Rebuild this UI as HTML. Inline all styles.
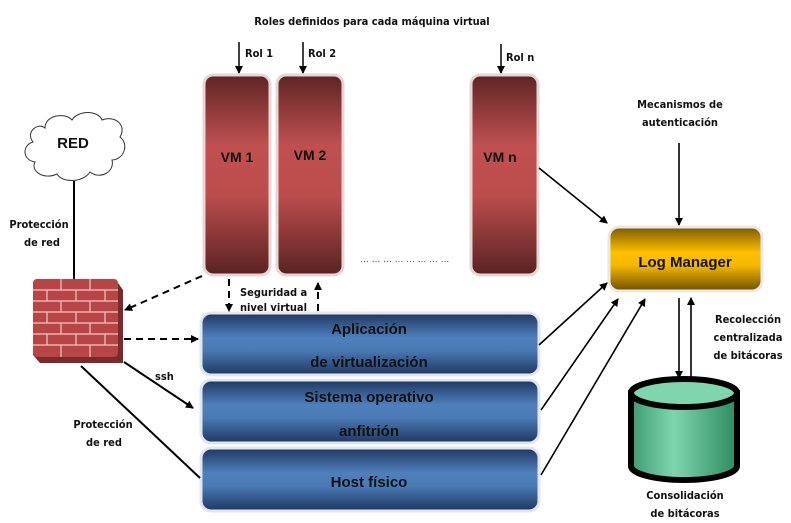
<!DOCTYPE html>
<html><head><meta charset="utf-8"><style>
html,body{margin:0;padding:0;background:#fff;}
svg{display:block;font-family:"Liberation Sans",sans-serif;}
.c{font-family:"DejaVu Sans Condensed","Liberation Sans",sans-serif;font-size:11px;font-weight:bold;fill:#111;}
.b{font-weight:bold;fill:#111;}
</style></head><body>
<svg width="791" height="523" viewBox="0 0 791 523" xmlns="http://www.w3.org/2000/svg">
<defs>
<linearGradient id="vm" x1="0" y1="0" x2="0" y2="1">
<stop offset="0" stop-color="#5e2424"/><stop offset="0.35" stop-color="#c05050"/><stop offset="0.6" stop-color="#bd4d4d"/><stop offset="1" stop-color="#5a2222"/></linearGradient>
<linearGradient id="bl" x1="0" y1="0" x2="0" y2="1">
<stop offset="0" stop-color="#1f3760"/><stop offset="0.4" stop-color="#4f80bd"/><stop offset="0.6" stop-color="#4a7ab5"/><stop offset="1" stop-color="#1f3760"/></linearGradient>
<linearGradient id="lm" x1="0" y1="0" x2="0" y2="1">
<stop offset="0" stop-color="#7a5a00"/><stop offset="0.4" stop-color="#ffc000"/><stop offset="0.6" stop-color="#f5b800"/><stop offset="1" stop-color="#6e5000"/></linearGradient>
<linearGradient id="cy" x1="0" y1="0" x2="1" y2="0">
<stop offset="0" stop-color="#3e9a72"/><stop offset="0.4" stop-color="#7fd6ae"/><stop offset="1" stop-color="#2e8a60"/></linearGradient>
<marker id="a" markerWidth="8" markerHeight="8" refX="7" refY="4" orient="auto" markerUnits="userSpaceOnUse"><path d="M0,0 L8,4 L0,8 z" fill="#000"/></marker>
</defs>

<text x="372" y="25" class="c" text-anchor="middle">Roles definidos para cada máquina virtual</text>
<g stroke="#000" stroke-width="1.5" marker-end="url(#a)">
<line x1="239" y1="42" x2="239" y2="73"/><line x1="303" y1="42" x2="303" y2="73"/><line x1="501" y1="44" x2="501" y2="73"/>
</g>
<text x="245" y="57" class="c">Rol 1</text><text x="308" y="57" class="c">Rol 2</text><text x="506" y="61" class="c">Rol n</text>

<g stroke="#e6d6d6" stroke-width="3">
<rect x="204" y="75" width="66" height="200" rx="9" fill="url(#vm)"/>
<rect x="277" y="75" width="66" height="200" rx="9" fill="url(#vm)"/>
<rect x="471" y="75" width="67" height="200" rx="9" fill="url(#vm)"/>
</g>
<text x="237" y="162" class="b" font-size="14" text-anchor="middle">VM 1</text>
<text x="310" y="160" class="b" font-size="14" text-anchor="middle">VM 2</text>
<text x="500" y="162" class="b" font-size="14" text-anchor="middle">VM n</text>
<text x="360" y="262" font-size="9" fill="#333">… … … … … … … …</text>

<g stroke="#e3e6ee" stroke-width="3">
<rect x="201" y="313" width="338" height="62" rx="10" fill="url(#bl)"/>
<rect x="201" y="380" width="338" height="63" rx="10" fill="url(#bl)"/>
<rect x="201" y="448" width="338" height="63" rx="10" fill="url(#bl)"/>
</g>
<g class="b" font-size="15" text-anchor="middle">
<text x="369" y="334">Aplicación</text><text x="369" y="367">de virtualización</text>
<text x="369" y="402">Sistema operativo</text><text x="369" y="436">anfitrión</text>
<text x="369" y="487">Host físico</text>
</g>

<path d="M45,128 C45,115 65,112 72,120 C78,110 98,110 102,120 C115,115 127,125 120,137 C130,145 123,160 112,160 C115,172 100,180 90,172 C83,183 62,183 57,174 C45,180 30,172 35,162 C22,160 22,145 33,142 C25,132 38,122 45,128 Z" fill="#fff" stroke="#333" stroke-width="1"/>
<text x="73" y="148" class="b" font-size="15" text-anchor="middle">RED</text>
<line x1="74" y1="181" x2="74" y2="279" stroke="#000" stroke-width="2"/>
<text x="39" y="228" class="c" text-anchor="middle">Protección</text>
<text x="42" y="246" class="c" text-anchor="middle">de red</text>

<path d="M36,280 L116,280 L123,290 L123,363 L40,363 L33,355 Z" fill="#7a2a2a"/>
<rect x="33" y="279" width="85" height="78" rx="4" fill="#b84545"/>
<g stroke="#f0c8c8" stroke-width="1.2">
<line x1="33" y1="290" x2="118" y2="290"/><line x1="33" y1="301" x2="118" y2="301"/><line x1="33" y1="312" x2="118" y2="312"/><line x1="33" y1="323" x2="118" y2="323"/><line x1="33" y1="334" x2="118" y2="334"/><line x1="33" y1="345" x2="118" y2="345"/>
<line x1="61" y1="279" x2="61" y2="290"/><line x1="90" y1="279" x2="90" y2="290"/>
<line x1="47" y1="290" x2="47" y2="301"/><line x1="76" y1="290" x2="76" y2="301"/><line x1="105" y1="290" x2="105" y2="301"/>
<line x1="61" y1="301" x2="61" y2="312"/><line x1="90" y1="301" x2="90" y2="312"/>
<line x1="47" y1="312" x2="47" y2="323"/><line x1="76" y1="312" x2="76" y2="323"/><line x1="105" y1="312" x2="105" y2="323"/>
<line x1="61" y1="323" x2="61" y2="334"/><line x1="90" y1="323" x2="90" y2="334"/>
<line x1="47" y1="334" x2="47" y2="345"/><line x1="76" y1="334" x2="76" y2="345"/><line x1="105" y1="334" x2="105" y2="345"/>
<line x1="61" y1="345" x2="61" y2="357"/><line x1="90" y1="345" x2="90" y2="357"/>
</g>

<g stroke="#000" stroke-width="2" stroke-dasharray="7,5" fill="none" marker-end="url(#a)">
<line x1="202" y1="276" x2="125" y2="310"/>
<line x1="124" y1="339" x2="198" y2="339"/>
<line x1="229" y1="279" x2="229" y2="311"/>
</g>
<line x1="318" y1="311" x2="318" y2="283" stroke="#000" stroke-width="2" stroke-dasharray="7,5" marker-end="url(#a)"/>
<text x="240" y="296" class="c">Seguridad a</text>
<text x="240" y="311" class="c">nivel virtual</text>

<line x1="124" y1="362" x2="193" y2="408" stroke="#000" stroke-width="2" marker-end="url(#a)"/>
<text x="155" y="380" class="c">ssh</text>
<line x1="81" y1="366" x2="200" y2="478" stroke="#000" stroke-width="2"/>
<text x="103" y="428" class="c" text-anchor="middle">Protección</text>
<text x="104" y="446" class="c" text-anchor="middle">de red</text>

<g stroke="#000" stroke-width="1.6" marker-end="url(#a)">
<line x1="539" y1="168" x2="607" y2="223"/>
<line x1="539" y1="345" x2="607" y2="283"/>
<line x1="541" y1="410" x2="618" y2="299"/>
<line x1="541" y1="475" x2="645" y2="299"/>
<line x1="679" y1="143" x2="679" y2="225"/>
<line x1="679" y1="298" x2="679" y2="378"/>
<line x1="691" y1="377" x2="691" y2="298"/>
</g>
<text x="680" y="108" class="c" text-anchor="middle">Mecanismos de</text>
<text x="680" y="126" class="c" text-anchor="middle">autenticación</text>

<rect x="609" y="227" width="153" height="64" rx="10" fill="url(#lm)" stroke="#e8e8e8" stroke-width="3"/>
<text x="685" y="267" class="b" font-size="15" text-anchor="middle">Log Manager</text>

<text x="748" y="323" class="c" text-anchor="middle">Recolección</text>
<text x="748" y="341" class="c" text-anchor="middle">centralizada</text>
<text x="748" y="359" class="c" text-anchor="middle">de bitácoras</text>

<path d="M631,393 L631,466 A53,14 0 0 0 737,466 L737,393 Z" fill="url(#cy)" stroke="#000" stroke-width="6"/>
<ellipse cx="684" cy="393" rx="53" ry="14" fill="#7fd6ae" stroke="#000" stroke-width="6"/>
<text x="685" y="499" class="c" text-anchor="middle">Consolidación</text>
<text x="685" y="517" class="c" text-anchor="middle">de bitácoras</text>
</svg>
</body></html>
